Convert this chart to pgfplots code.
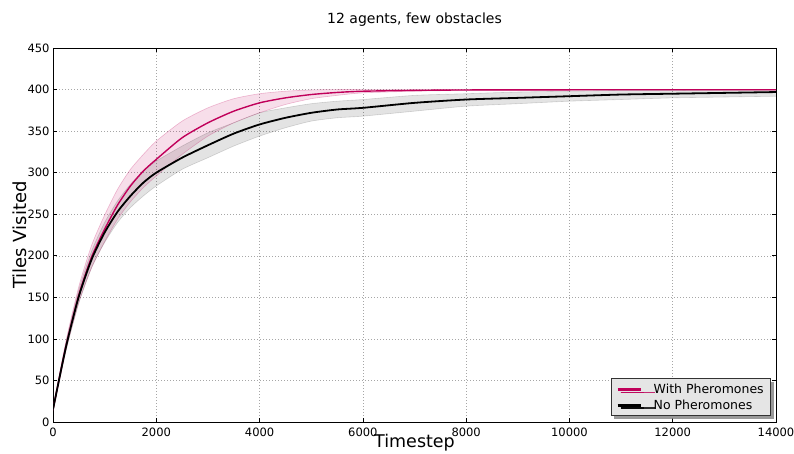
\documentclass[border=0pt]{standalone}
\usepackage{fontspec}
\setmainfont{DejaVu Sans}
\usepackage{pgfplots}
\usepackage{pgfplotstable}
\pgfplotsset{compat=1.18}
\usepgfplotslibrary{fillbetween}
\usetikzlibrary{shadows}

\definecolor{phero}{RGB}{192,0,90}

% x, mean, lower and upper edge of the band
\pgfplotstableread{
x m lo hi
0 15 13 17
250 91 86 97
500 153 144 163
750 199 186 213
1000 232 217 249
1250 261 244 280
1500 284 265 304
1750 302 282 322
2000 316 296 338
2500 342 322 362
3000 360 344 378
3500 374 360 389
4000 384 372 395
4500 390 382 398
5000 394 389 399.5
5500 396.5 393 400
6000 398 396 400
7000 399 398 400
8000 399.5 399 400
10000 399.7 399.2 400
12000 399.8 399.4 400
14000 399.8 399.4 400
}\withtab

\pgfplotstableread{
x m lo hi
0 15 13 17
250 90 85 95
500 151 143 159
750 196 186 206
1000 228 216 240
1250 253 240 266
1500 272 258 286
1750 288 272 302
2000 300 284 314
2500 318 304 332
3000 333 318 348
3500 347 332 360
4000 358 344 372
4500 366 354 378
5000 372 362 383
5500 376 366 386
6000 378 368 388
7000 384 374 393
8000 388 380 395
9000 390 383 397
10000 392 386 398
11000 394 388 399
12000 395 390 399
13000 396 391 400
14000 397 392 400
}\notab

\begin{document}
\begin{tikzpicture}
\begin{axis}[
  name=ax, at={(0,0)}, anchor=south west,
  scale only axis, width=723pt, height=374pt,
  xmin=0, xmax=14000, ymin=0, ymax=450,
  xtick={0,2000,...,14000}, ytick={0,50,...,450},
  scaled x ticks=false,
  /pgf/number format/1000 sep={},
  /pgf/number format/assume math mode=true,
  tick label style={font=\fontsize{11.5}{13}\selectfont},
  xticklabel style={yshift=-2pt},
  grid=major,
  grid style={gray!70, line width=0.5pt, dash pattern=on 1pt off 2pt},
  axis line style={black, line width=0.8pt},
  tick style={black, line width=0.6pt},
  major tick length=4pt, tick align=inside,
  xtick pos=both, ytick pos=both,
  title={12 agents, few obstacles},
  title style={font=\fontsize{14}{16}\selectfont, at={(axis description cs:0.5,1.059)}, anchor=center},
  xlabel={Timestep},
  xlabel style={font=\fontsize{17.5}{20}\selectfont, at={(axis description cs:0.5,-0.056)}, anchor=center},
  ylabel={Tiles Visited},
  ylabel style={font=\fontsize{18}{20}\selectfont, at={(axis description cs:-0.0456,0.5)}, anchor=center},
  legend style={at={(1,0)}, anchor=south east, xshift=-5pt, yshift=6pt,
    fill=gray!20, draw=black!80, line width=0.6pt,
    font=\fontsize{12.5}{15}\selectfont,
    drop shadow={shadow xshift=3pt, shadow yshift=-3pt, opacity=0.8},
    inner xsep=5pt, inner ysep=3pt, row sep=1pt, cells={anchor=west}},
  legend image code/.code={\draw[#1, line width=3pt] (0pt,0pt) -- (23pt,0pt); \path[draw=none, fill=none] (0pt,0pt) -- (34pt,0pt);},
  every axis plot/.append style={smooth, tension=0.4},
]
\addplot[name path=wu, draw=phero, draw opacity=0.25, line width=0.6pt, forget plot] table[x=x, y=hi]{\withtab};
\addplot[name path=wl, draw=phero, draw opacity=0.25, line width=0.6pt, forget plot] table[x=x, y=lo]{\withtab};
\addplot[fill=phero, fill opacity=0.13, draw=none, forget plot] fill between[of=wu and wl];

\addplot[name path=nu, draw=black, draw opacity=0.15, line width=0.6pt, forget plot] table[x=x, y=hi]{\notab};
\addplot[name path=nl, draw=black, draw opacity=0.15, line width=0.6pt, forget plot] table[x=x, y=lo]{\notab};
\addplot[fill=black, fill opacity=0.11, draw=none, forget plot] fill between[of=nu and nl];

\addplot[phero, line width=1.4pt] table[x=x, y=m]{\withtab};
\addlegendentry{With Pheromones}
\addplot[black, line width=1.8pt] table[x=x, y=m]{\notab};
\addlegendentry{No Pheromones}
\end{axis}
\pgfresetboundingbox
\path[use as bounding box] (-53pt,-32pt) rectangle (741pt,422pt);
\end{tikzpicture}
\end{document}
